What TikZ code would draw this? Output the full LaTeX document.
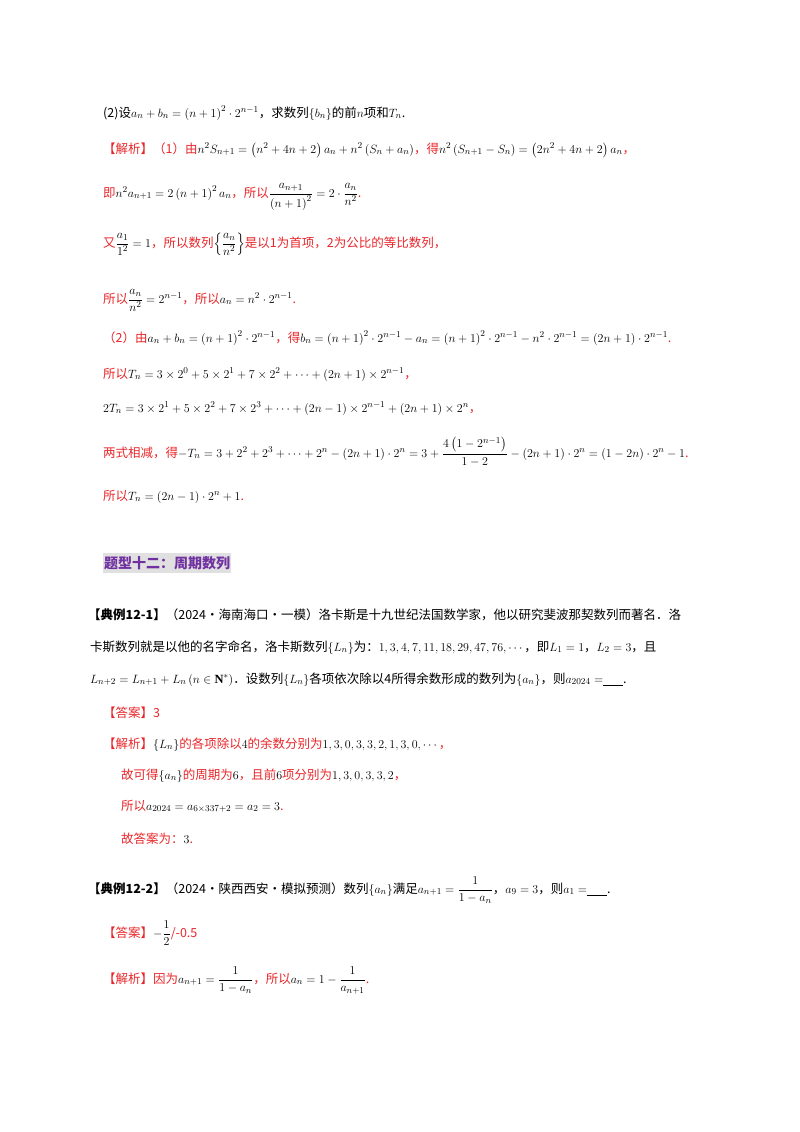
\documentclass[tikz,border=0pt]{standalone}
\usepackage{fontspec}
\usepackage{amsmath,amssymb}
\setmainfont{Liberation Serif}
\newfontfamily\cjk{Noto Sans CJK SC}
\definecolor{rd}{HTML}{E8262A}
\definecolor{pp}{HTML}{7030A0}
\newcommand{\mk}[1]{{\color{black}$#1$}}
\begin{document}
\begin{tikzpicture}[x=1pt,y=-1pt,
  ln/.style={anchor=base west,inner sep=0pt,font=\cjk\fontsize{12.5}{14}\selectfont},
  rl/.style={ln,text=rd}]
\useasboundingbox (0,0) rectangle (800,1132);
\node[ln] (l1) at (103,117) {(2)设\mk{a_n+b_n=\left(n+1\right)^2\cdot 2^{n-1}}，求数列\mk{\{b_n\}}的前\mk{n}项和\mk{T_n}.};
\node[rl] (l2) at (103,153) {【解析】（1）由\mk{n^2S_{n+1}=\left(n^2+4n+2\right)a_n+n^2\left(S_n+a_n\right)}，得\mk{n^2\left(S_{n+1}-S_n\right)=\left(2n^2+4n+2\right)a_n}，};
\node[rl] (l3) at (103,197) {即\mk{n^2a_{n+1}=2\left(n+1\right)^2a_n}，所以\mk{\dfrac{a_{n+1}}{\left(n+1\right)^2}=2\cdot\dfrac{a_n}{n^2}}.};
\node[rl] (l4) at (103,247) {又\mk{\dfrac{a_1}{1^2}=1}，所以数列\mk{\left\{\dfrac{a_n}{n^2}\right\}}是以1为首项，2为公比的等比数列，};
\node[rl] (l5) at (103,303) {所以\mk{\dfrac{a_n}{n^2}=2^{n-1}}，所以\mk{a_n=n^2\cdot 2^{n-1}}.};
\node[rl] (l6) at (103,342) {（2）由\mk{a_n+b_n=\left(n+1\right)^2\cdot 2^{n-1}}，得\mk{b_n=\left(n+1\right)^2\cdot2^{n-1}-a_n=\left(n+1\right)^2\cdot2^{n-1}-n^2\cdot2^{n-1}=\left(2n+1\right)\cdot2^{n-1}}.};
\node[rl] (l7) at (103,378) {所以\mk{T_n=3\times2^0+5\times2^1+7\times2^2+\cdots+\left(2n+1\right)\times2^{n-1}}，};
\node[rl] (l8) at (103,412) {\mk{2T_n=3\times2^1+5\times2^2+7\times2^3+\cdots+\left(2n-1\right)\times2^{n-1}+\left(2n+1\right)\times2^n}，};
\node[rl] (l9) at (103,457) {两式相减，得\mk{-T_n=3+2^2+2^3+\cdots+2^n-\left(2n+1\right)\cdot2^n=3+\dfrac{4\left(1-2^{n-1}\right)}{1-2}-\left(2n+1\right)\cdot2^n=\left(1-2n\right)\cdot2^n-1}.};
\node[rl] (l10) at (103,500) {所以\mk{T_n=\left(2n-1\right)\cdot2^n+1}.};
\node[anchor=west,fill=black!12,inner xsep=1pt,inner ysep=3pt,text=pp,font=\cjk\bfseries\fontsize{14}{16}\selectfont] (hd) at (103,563) {题型十二：周期数列};
\node[ln] (m1) at (88,619) {\textbf{【典例12-1】}（2024·海南海口·一模）洛卡斯是十九世纪法国数学家，他以研究斐波那契数列而著名．洛};
\node[ln] (m2) at (90,651) {卡斯数列就是以他的名字命名，洛卡斯数列\mk{\{L_n\}}为：\mk{1,3,4,7,11,18,29,47,76,\cdots}，即\mk{L_1=1}，\mk{L_2=3}，且};
\node[ln] (m3) at (90,683) {\mk{L_{n+2}=L_{n+1}+L_n\left(n\in\mathbf N^*\right)}．设数列\mk{\{L_n\}}各项依次除以4所得余数形成的数列为\mk{\{a_n\}}，则\mk{a_{2024}=}\underline{\hspace{20pt}}.};
\node[rl] (m4) at (103,717) {【答案】3};
\node[rl] (m5) at (103,748) {【解析】\mk{\{L_n\}}的各项除以\mk{4}的余数分别为\mk{1,3,0,3,3,2,1,3,0,\cdots}，};
\node[rl] (m6) at (121,779) {故可得\mk{\{a_n\}}的周期为\mk{6}，且前\mk{6}项分别为\mk{1,3,0,3,3,2}，};
\node[rl] (m7) at (121,810) {所以\mk{a_{2024}=a_{6\times337+2}=a_2=3}.};
\node[rl] (m8) at (121,843) {故答案为：\mk{3}.};
\node[ln] (n1) at (88,893) {\textbf{【典例12-2】}（2024·陕西西安·模拟预测）数列\mk{\{a_n\}}满足\mk{a_{n+1}=\dfrac{1}{1-a_n}}，\mk{a_9=3}，则\mk{a_1=}\underline{\hspace{20pt}}.};
\node[rl] (n2) at (103,937) {【答案】\mk{-\dfrac12}/-0.5};
\node[rl] (n3) at (103,983) {【解析】因为\mk{a_{n+1}=\dfrac{1}{1-a_n}}，所以\mk{a_n=1-\dfrac{1}{a_{n+1}}}.};
\end{tikzpicture}
\end{document}
